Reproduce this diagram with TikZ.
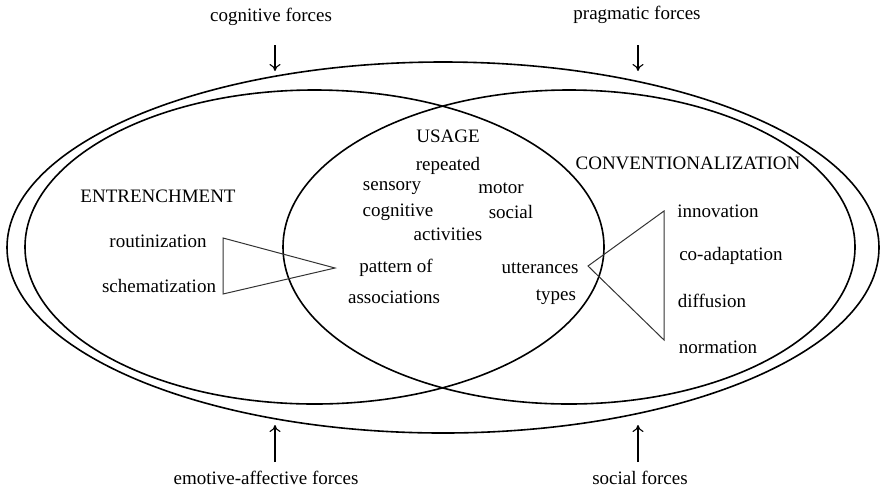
\documentclass[tikz,border=0pt]{standalone}
\usepackage{fontspec}
\setmainfont{Liberation Serif}
\usetikzlibrary{arrows.meta}
\begin{document}
\begin{tikzpicture}[x=1pt,y=-1pt,
  every node/.style={inner sep=0pt, text=black, font=\fontsize{19}{21}\selectfont},
  lbl/.style={anchor=center},
  ring/.style={draw=black, line width=1.6pt},
  tri/.style={draw=black!80, line width=1pt, line join=miter},
  force/.style={draw=black, line width=1.1pt, -{To[length=7pt,width=11pt]}}]
\useasboundingbox (0,0) rectangle (880,491);
% ellipses
\draw[ring] (443,247.5) ellipse [x radius=436, y radius=185.5];
\draw[ring] (314.5,247) ellipse [x radius=289.5, y radius=157];
\draw[ring] (569,247) ellipse [x radius=286, y radius=157];
% texts
\node[lbl] (usage) at (448,136) {USAGE};
\node[lbl] (rep) at (448,166) {repeated};
\node[lbl] (sens) at (392,188) {sensory};
\node[lbl] (mot) at (501,188) {motor};
\node[lbl] (cog) at (398,212) {cognitive};
\node[lbl] (soc) at (511,212) {social};
\node[lbl] (act) at (448,234) {activities};
\node[lbl] (pat) at (396,268) {pattern of};
\node[lbl] (assoc) at (394,297) {associations};
\node[lbl] (utt) at (540,268) {utterances};
\node[lbl] (typ) at (556,297) {types};
\node[lbl] (ent) at (158,196) {ENTRENCHMENT};
\node[lbl] (rout) at (158,241) {routinization};
\node[lbl] (schem) at (159,286) {schematization};
\node[lbl] (conv) at (688,163) {CONVENTIONALIZATION};
\node[lbl] (inn) at (718,211) {innovation};
\node[lbl] (coad) at (731,256) {co-adaptation};
\node[lbl] (diff) at (712,301) {diffusion};
\node[lbl] (norm) at (718,347) {normation};
% triangles
\coordinate (l1) at (223,238);
\coordinate (l2) at (223,294);
\coordinate (l3) at (335,268);
\draw[tri] (l1) -- (l3) -- (l2) -- cycle;
\coordinate (r1) at (664,211);
\coordinate (r2) at (664,340);
\coordinate (r3) at (588,266);
\draw[tri] (r1) -- (r3) -- (r2) -- cycle;
% forces
\node[lbl] (cf) at (271,17) {cognitive forces};
\node[lbl] (pf) at (637,15) {pragmatic forces};
\node[lbl] (ef) at (266,478) {emotive-affective forces};
\node[lbl] (sf) at (640,478) {social forces};
\coordinate (cfs) at (275,45);
\coordinate (pfs) at (638,45);
\coordinate (efs) at (275,462);
\coordinate (sfs) at (638,462);
\coordinate (cft) at (275,71);
\coordinate (pft) at (638,71);
\coordinate (eft) at (275,425);
\coordinate (sft) at (638,425);
\draw[force] (cfs) -- (cft);
\draw[force] (pfs) -- (pft);
\draw[force] (efs) -- (eft);
\draw[force] (sfs) -- (sft);
\end{tikzpicture}
\end{document}
